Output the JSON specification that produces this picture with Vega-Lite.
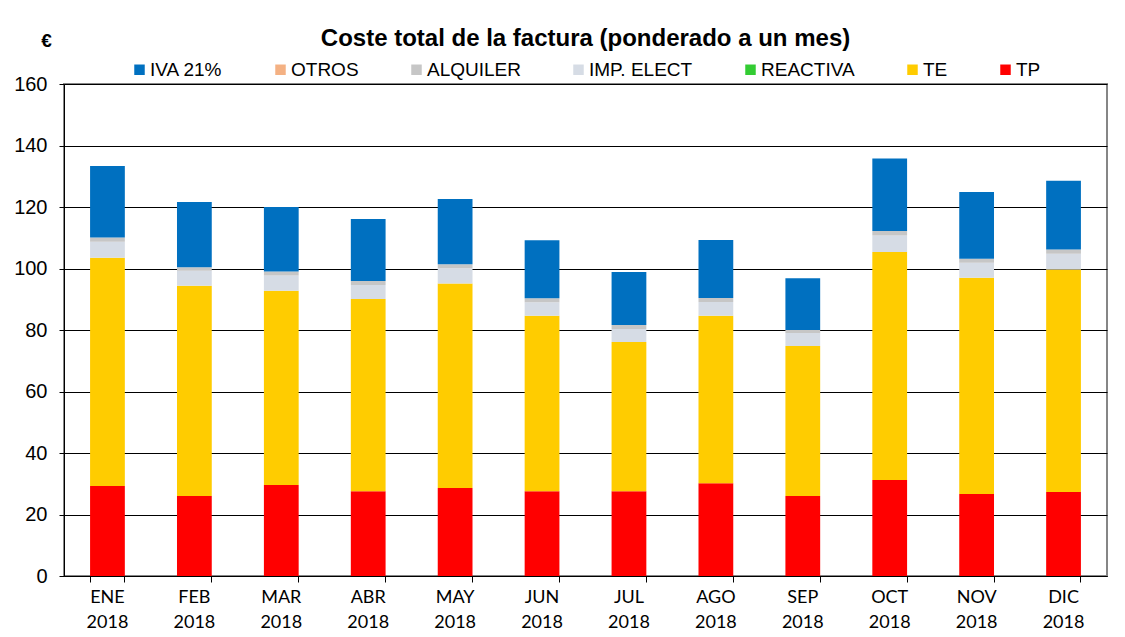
{
  "$schema": "https://vega.github.io/schema/vega-lite/v6.json",
  "width": 1043,
  "height": 492,
  "autosize": {"type": "none"},
  "padding": {"left": 64, "top": 84, "right": 18, "bottom": 61},
  "background": "white",
  "title": {
    "text": "Coste total de la factura (ponderado a un mes)",
    "font": "Liberation Sans",
    "fontSize": 24,
    "fontWeight": "bold",
    "color": "black",
    "anchor": "middle",
    "frame": "group",
    "offset": -20
  },
  "datasets": {
    "costes": [
      {"mes": "ENE 2018", "TP": 29.3, "TE": 74.2, "REACTIVA": 0, "IMP_ELECT": 5.2, "ALQUILER": 1.4, "OTROS": 0, "IVA": 23.2},
      {"mes": "FEB 2018", "TP": 26.0, "TE": 68.4, "REACTIVA": 0, "IMP_ELECT": 4.9, "ALQUILER": 1.1, "OTROS": 0, "IVA": 21.2},
      {"mes": "MAR 2018", "TP": 29.6, "TE": 63.2, "REACTIVA": 0, "IMP_ELECT": 4.9, "ALQUILER": 1.3, "OTROS": 0, "IVA": 21.0},
      {"mes": "ABR 2018", "TP": 27.6, "TE": 62.5, "REACTIVA": 0, "IMP_ELECT": 4.5, "ALQUILER": 1.3, "OTROS": 0, "IVA": 20.2},
      {"mes": "MAY 2018", "TP": 28.6, "TE": 66.5, "REACTIVA": 0, "IMP_ELECT": 5.0, "ALQUILER": 1.3, "OTROS": 0, "IVA": 21.2},
      {"mes": "JUN 2018", "TP": 27.6, "TE": 57.0, "REACTIVA": 0, "IMP_ELECT": 4.4, "ALQUILER": 1.3, "OTROS": 0, "IVA": 18.9},
      {"mes": "JUL 2018", "TP": 27.6, "TE": 48.5, "REACTIVA": 0, "IMP_ELECT": 4.2, "ALQUILER": 1.3, "OTROS": 0, "IVA": 17.3},
      {"mes": "AGO 2018", "TP": 30.2, "TE": 54.4, "REACTIVA": 0, "IMP_ELECT": 4.5, "ALQUILER": 1.3, "OTROS": 0, "IVA": 18.9},
      {"mes": "SEP 2018", "TP": 26.0, "TE": 48.8, "REACTIVA": 0, "IMP_ELECT": 4.2, "ALQUILER": 1.0, "OTROS": 0, "IVA": 16.8},
      {"mes": "OCT 2018", "TP": 31.2, "TE": 74.2, "REACTIVA": 0, "IMP_ELECT": 5.3, "ALQUILER": 1.5, "OTROS": 0, "IVA": 23.6},
      {"mes": "NOV 2018", "TP": 26.7, "TE": 70.3, "REACTIVA": 0, "IMP_ELECT": 4.9, "ALQUILER": 1.3, "OTROS": 0, "IVA": 21.7},
      {"mes": "DIC 2018", "TP": 27.3, "TE": 72.4, "REACTIVA": 0, "IMP_ELECT": 5.1, "ALQUILER": 1.4, "OTROS": 0, "IVA": 22.3}
    ]
  },
  "data": {"name": "costes"},
  "transform": [
    {"fold": ["TP", "TE", "REACTIVA", "IMP_ELECT", "ALQUILER", "OTROS", "IVA"], "as": ["clave", "valor"]},
    {"calculate": "datum.clave === 'IVA' ? 'IVA 21%' : datum.clave === 'IMP_ELECT' ? 'IMP. ELECT' : datum.clave", "as": "serie"},
    {"calculate": "indexof(['TP','TE','REACTIVA','IMP_ELECT','ALQUILER','OTROS','IVA'], datum.clave)", "as": "pila"}
  ],
  "mark": {"type": "bar"},
  "encoding": {
    "x": {
      "field": "mes",
      "type": "nominal",
      "sort": null,
      "scale": {"paddingInner": 0.6, "paddingOuter": 0.3},
      "axis": {
        "title": null,
        "labelAngle": 0,
        "labelExpr": "split(datum.label, ' ')",
        "labelFont": "Lato",
        "labelFontSize": 18,
        "labelLineHeight": 25,
        "labelColor": "black",
        "labelPadding": 6,
        "labelBaseline": "top",
        "bandPosition": 1,
        "tickExtra": true,
        "tickSize": 6,
        "tickColor": "black",
        "domainColor": "black",
        "grid": false
      }
    },
    "y": {
      "field": "valor",
      "type": "quantitative",
      "stack": "zero",
      "scale": {"domain": [0, 160], "nice": false},
      "axis": {
        "title": "€",
        "titleAngle": 0,
        "titleFont": "Liberation Sans",
        "titleFontSize": 19,
        "titleFontWeight": "bold",
        "titleColor": "black",
        "titleX": -18,
        "titleY": -44,
        "titleAlign": "center",
        "titleBaseline": "middle",
        "values": [0, 20, 40, 60, 80, 100, 120, 140, 160],
        "grid": true,
        "gridColor": "black",
        "gridWidth": 1,
        "tickSize": 5,
        "tickColor": "black",
        "domainColor": "black",
        "labelPadding": 12,
        "labelFont": "Liberation Sans",
        "labelFontSize": 20,
        "labelColor": "black"
      }
    },
    "color": {
      "field": "serie",
      "type": "nominal",
      "scale": {
        "domain": ["IVA 21%", "OTROS", "ALQUILER", "IMP. ELECT", "REACTIVA", "TE", "TP"],
        "range": ["#0070C0", "#F4B183", "#C6C6C6", "#D6DCE5", "#33CC33", "#FFCC00", "#FF0000"]
      },
      "legend": {
        "title": null,
        "orient": "none",
        "legendX": 66,
        "legendY": -24,
        "direction": "horizontal",
        "columns": 7,
        "symbolType": "square",
        "symbolSize": 110,
        "symbolStrokeWidth": 0,
        "labelFont": "Liberation Sans",
        "labelFontSize": 19,
        "labelColor": "black",
        "labelOffset": 1,
        "columnPadding": 48
      }
    },
    "order": {"field": "pila", "type": "quantitative"}
  },
  "config": {
    "view": {"stroke": "#868686", "strokeWidth": 2}
  }
}
